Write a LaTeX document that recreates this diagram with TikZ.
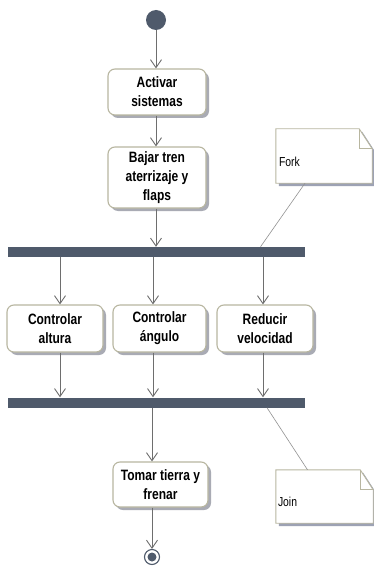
\documentclass[tikz,border=0pt]{standalone}
\usepackage{fontspec}
\setmainfont{Liberation Sans}[FakeStretch=0.8]
\usetikzlibrary{positioning,shadows,arrows.meta}
\definecolor{barslate}{HTML}{4F5A6B}
\definecolor{flowgray}{HTML}{6E6E6E}
\definecolor{boxedge}{HTML}{B8B6A0}
\definecolor{boxshade}{HTML}{A9ABB4}
\definecolor{noteshade}{HTML}{9DA2B4}

\tikzset{
  actbox/.style={draw=boxedge, line width=1.1pt, rounded corners=7pt, fill=white,
    align=center, inner sep=0pt, font=\bfseries\fontsize{15}{19}\selectfont,
    drop shadow={shadow xshift=3pt, shadow yshift=-3pt, fill=boxshade, opacity=1}},
  syncbar/.style={fill=barslate, minimum width=297pt, minimum height=10pt, inner sep=0pt},
  flow/.style={draw=flowgray, line width=0.9pt, -{Straight Barb[length=8pt,width=11pt]}},
  noteedge/.style={draw=boxedge, line width=0.9pt, fill=white,
    drop shadow={shadow xshift=3pt, shadow yshift=-3pt, fill=noteshade, opacity=1}},
  noteline/.style={draw=flowgray!75, line width=0.6pt},
  notetext/.style={anchor=base west, inner sep=0pt, font=\fontsize{13}{15}\selectfont}
}

\begin{document}
\begin{tikzpicture}[x=1pt, y=-1pt]
\useasboundingbox[fill=white] (0,0) rectangle (373,572);

% initial and final states
\node[circle, fill=barslate, minimum size=20pt, inner sep=0pt] (start) at (156,20) {};
\node[circle, draw=barslate, line width=1.1pt, fill=white, minimum size=15pt, inner sep=0pt] (finish) at (152,557) {};
\node[circle, fill=barslate, minimum size=9pt, inner sep=0pt] (finishdot) at (finish.center) {};

% actions
\node[actbox, minimum width=98pt, minimum height=46pt] (activar) at (157,92) {Activar\\sistemas};
\node[actbox, minimum width=98pt, minimum height=61pt] (bajar) at (157,177.5) {Bajar tren\\aterrizaje y\\flaps};
\node[syncbar] (fork) at (156.5,252) {};
\node[actbox, minimum width=96pt, minimum height=47pt] (altura) at (55,328.5) {Controlar\\altura};
\node[actbox, minimum width=93pt, minimum height=47pt] (angulo) at (159.5,328.5) {Controlar\\ángulo};
\node[actbox, minimum width=96pt, minimum height=47pt] (reducir) at (265,328.5) {Reducir\\velocidad};
\node[syncbar] (join) at (156.5,402.5) {};
\node[actbox, minimum width=95pt, minimum height=45pt] (tomar) at (160.5,484.5) {Tomar tierra y\\frenar};

% notes
\node[minimum width=96pt, minimum height=54pt, inner sep=0pt] (forknote) at (324,156) {};
\draw[noteedge] (forknote.south west) -- (forknote.north west) -- ([xshift=-13pt]forknote.north east)
  -- ([yshift=-20pt]forknote.north east) -- (forknote.south east) -- cycle;
\draw[draw=boxedge, line width=0.9pt] ([xshift=-13pt]forknote.north east) |- ([yshift=-20pt]forknote.north east);
\node[notetext] (forklabel) at ([xshift=3pt, yshift=-11pt]forknote.west) {Fork};

\node[minimum width=97pt, minimum height=53pt, inner sep=0pt] (joinnote) at (324.5,496.5) {};
\draw[noteedge] (joinnote.south west) -- (joinnote.north west) -- ([xshift=-13pt]joinnote.north east)
  -- ([yshift=-20pt]joinnote.north east) -- (joinnote.south east) -- cycle;
\draw[draw=boxedge, line width=0.9pt] ([xshift=-13pt]joinnote.north east) |- ([yshift=-20pt]joinnote.north east);
\node[notetext] (joinlabel) at ([xshift=2pt, yshift=-10pt]joinnote.west) {Join};

% flows
\draw[flow] (start) -- (start |- activar.north);
\draw[flow] (activar.south -| start) -- (bajar.north -| start);
\draw[flow] (bajar.south -| start) -- (fork.north -| start);
\draw[flow] ([xshift=5pt]fork.south -| altura) -- ([xshift=5pt]altura.north);
\draw[flow] ([xshift=-6.5pt]fork.south -| angulo) -- ([xshift=-6.5pt]angulo.north);
\draw[flow] ([xshift=-2pt]fork.south -| reducir) -- ([xshift=-2pt]reducir.north);
\draw[flow] ([xshift=5pt]altura.south) -- ([xshift=5pt]join.north -| altura);
\draw[flow] ([xshift=-6.5pt]angulo.south) -- ([xshift=-6.5pt]join.north -| angulo);
\draw[flow] ([xshift=-2pt]reducir.south) -- ([xshift=-2pt]join.north -| reducir);
\draw[flow] (join.south -| finish) -- (tomar.north -| finish);
\draw[flow] (tomar.south -| finish) -- (finish.north);

% note anchors
\draw[noteline] ([xshift=-19pt]forknote.south) -- ([xshift=104pt]fork.north);
\draw[noteline] ([xshift=110.5pt]join.south) -- ([xshift=-17pt]joinnote.north);
\end{tikzpicture}
\end{document}
